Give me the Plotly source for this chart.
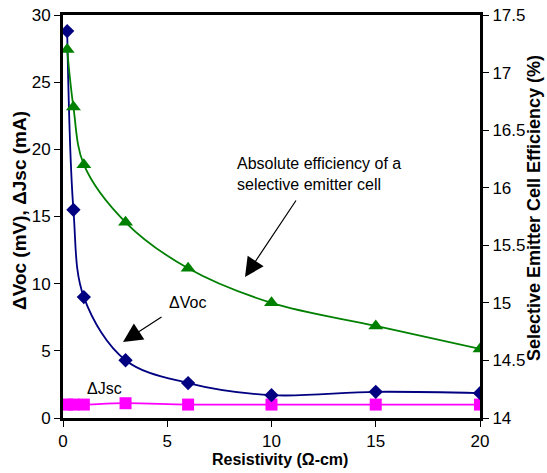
import plotly.graph_objects as go

resistivity = [0.2, 0.5, 1, 3, 6, 10, 15, 20]
delta_voc = [28.8, 15.5, 9.0, 4.3, 2.6, 1.7, 1.95, 1.85]
delta_jsc = [1.0, 1.0, 1.0, 1.1, 1.0, 1.0, 1.0, 1.0]
efficiency = [17.2, 16.7, 16.2, 15.7, 15.3, 15.0, 14.8, 14.6]

x_ticks = [0, 5, 10, 15, 20]
y_ticks = [0, 5, 10, 15, 20, 25, 30]
y2_ticks = [14, 14.5, 15, 15.5, 16, 16.5, 17, 17.5]
y2_labels = ["14", "14.5", "15", "15.5", "16", "16.5", "17", "17.5"]

FONT = "Liberation Sans, Arial, sans-serif"

fig = go.Figure()
fig.add_trace(go.Scatter(
    x=resistivity, y=efficiency, yaxis="y2", mode="lines+markers",
    line=dict(color="#008000", width=1.8, shape="spline"),
    marker=dict(symbol="triangle-up", size=13, color="#008000"),
    name="Efficiency"))
fig.add_trace(go.Scatter(
    x=resistivity, y=delta_jsc, mode="lines+markers",
    line=dict(color="#FF00FF", width=1.8, shape="spline"),
    marker=dict(symbol="square", size=12, color="#FF00FF"),
    name="ΔJsc"))
fig.add_trace(go.Scatter(
    x=resistivity, y=delta_voc, mode="lines+markers",
    line=dict(color="#000080", width=1.8, shape="spline"),
    marker=dict(symbol="diamond", size=11, color="#000080"),
    name="ΔVoc"))

axis_common = dict(showgrid=False, zeroline=False, showline=True,
                   linecolor="black", linewidth=3, ticks="outside",
                   ticklen=6, tickwidth=1, tickcolor="black",
                   tickfont=dict(family=FONT, size=17, color="black"))

fig.update_layout(
    width=547, height=473,
    margin=dict(l=63, r=67, t=15, b=55, autoexpand=False),
    paper_bgcolor="white", plot_bgcolor="white",
    showlegend=False,
    xaxis=dict(range=[0, 20], tickvals=x_ticks, mirror=True, automargin=False, **axis_common),
    yaxis=dict(range=[0, 30], tickvals=y_ticks, automargin=False, **axis_common),
    yaxis2=dict(range=[14, 17.5], tickvals=y2_ticks, ticktext=y2_labels,
                overlaying="y", side="right", automargin=False, **axis_common),
)

ann_font = dict(family=FONT, size=16, color="black")

annotations = [
    dict(text="Absolute efficiency of a<br>selective emitter cell", xref="paper", yref="paper",
         x=(235 - 63) / 417, y=(418 - 174) / 403, xanchor="left", yanchor="middle",
         showarrow=False, align="left", font=ann_font),
    dict(text="", x=(245 - 63) / 20.85, y=(418 - 277) / 13.43, xref="x", yref="y",
         ax=52, ay=-78, showarrow=True, arrowhead=2, arrowsize=3.2, arrowwidth=1.2,
         arrowcolor="black", standoff=0),
    dict(text="ΔVoc", xref="paper", yref="paper", x=(187 - 63) / 417, y=(418 - 302) / 403,
         xanchor="center", yanchor="middle", showarrow=False, font=ann_font),
    dict(text="", x=(123 - 63) / 20.85, y=(418 - 342) / 13.43, xref="x", yref="y",
         ax=40, ay=-26, showarrow=True, arrowhead=2, arrowsize=3.2, arrowwidth=1.2,
         arrowcolor="black", standoff=0),
    dict(text="ΔJsc", xref="paper", yref="paper", x=(104 - 63) / 417, y=(418 - 388) / 403,
         xanchor="center", yanchor="middle", showarrow=False, font=ann_font),
    dict(text="<b>Resistivity (Ω-cm)</b>", xref="paper", yref="paper",
         x=(280 - 63) / 417, y=(418 - 459) / 403, xanchor="center", yanchor="middle",
         showarrow=False, font=dict(family=FONT, size=16, color="black")),
    dict(text="<b>ΔVoc (mV), ΔJsc (mA)</b>", xref="paper", yref="paper",
         x=(19 - 63) / 417, y=(418 - 211) / 403, xanchor="center", yanchor="middle",
         textangle=-90, showarrow=False, font=dict(family=FONT, size=19, color="black")),
    dict(text="<b>Selective Emitter Cell Efficiency (%)</b>", xref="paper", yref="paper",
         x=(534 - 63) / 417, y=(418 - 208) / 403, xanchor="center", yanchor="middle",
         textangle=-90, showarrow=False, font=dict(family=FONT, size=18, color="black")),
]
fig.update_layout(annotations=annotations)

fig.write_html("out.html", config={"displayModeBar": False},
               post_script="document.body.style.margin='0';")
